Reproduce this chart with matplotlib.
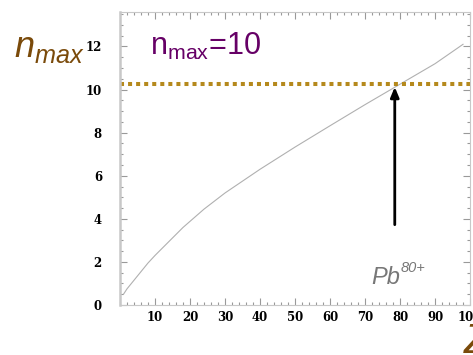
import numpy as np
import matplotlib.pyplot as plt
from matplotlib.ticker import MultipleLocator

# curve
Z = [1, 2, 4, 6, 8, 10, 14, 18, 24, 30, 40, 50, 60, 70, 80, 90, 98]
nmax = [0.5, 0.75, 1.15, 1.55, 1.95, 2.3, 2.95, 3.6, 4.45, 5.2, 6.3, 7.33,
        8.32, 9.3, 10.25, 11.2, 12.1]
n_line = 10.25
pb_Z = 78.5
arrow_from = 3.6

plt.rcParams['mathtext.fontset'] = 'custom'
plt.rcParams['mathtext.rm'] = 'Liberation Sans'
plt.rcParams['mathtext.it'] = 'Liberation Sans:italic'

fig = plt.figure(figsize=(4.73, 3.55), dpi=100)
ax = fig.add_axes([0.2537, 0.1408, 0.74, 0.8254])

ax.plot(Z, nmax, color='#b0b0b0', lw=0.8)
ax.axhline(n_line, color='#b5891c', lw=2.9, ls=(0, (1, 1)), dash_capstyle='butt')
ax.annotate('', xy=(pb_Z, n_line), xytext=(pb_Z, arrow_from),
            arrowprops=dict(arrowstyle='-|>,head_length=0.6,head_width=0.25',
                            color='black', lw=2))

ax.set_xlim(0, 100)
ax.set_ylim(0, 13.6)
ax.xaxis.set_minor_locator(MultipleLocator(2))
ax.yaxis.set_major_locator(MultipleLocator(2))
ax.yaxis.set_minor_locator(MultipleLocator(0.5))
ax.set_xticks(range(10, 101, 10))
ax.tick_params(which='both', direction='in', top=True, right=True,
               color='#999999', width=0.8)
ax.tick_params(which='major', length=5)
ax.tick_params(which='minor', length=2.5)
ax.tick_params(axis='y', pad=13)
ax.tick_params(axis='x', pad=4)
for lab in ax.get_xticklabels() + ax.get_yticklabels():
    lab.set_fontfamily('DejaVu Serif')
    lab.set_fontweight('bold')
    lab.set_fontsize(8.5)
for s in ax.spines.values():
    s.set_color('#c8c8c8')
    s.set_linewidth(0.8)
ax.spines['left'].set_linewidth(1.8)

ax.text(0.085, 0.935, r'$\mathrm{n}_{\mathrm{max}}$=10', transform=ax.transAxes,
        color='#660066', fontsize=22, family='Liberation Sans', va='top', ha='left')

# Pb80+ label
fig.text(371 / 473, 1 - 284 / 355, 'Pb', color='#777777', fontsize=17,
         fontstyle='italic', family='Liberation Sans', va='baseline', ha='left')
fig.text(401 / 473, 1 - 272 / 355, '80+', color='#777777', fontsize=10.5,
         fontstyle='italic', family='Liberation Sans', va='baseline', ha='left')

fig.text(14 / 473, 1 - 31 / 355, r'$n_{max}$', color='#7a4a0a', fontsize=26,
         va='top', ha='left')
fig.text(464 / 473, 1 - 322 / 355, 'Z', color='#7a4a0a', fontsize=30,
         fontstyle='italic', family='Liberation Sans', va='top', ha='left')

fig.savefig('out.png', dpi=100)
